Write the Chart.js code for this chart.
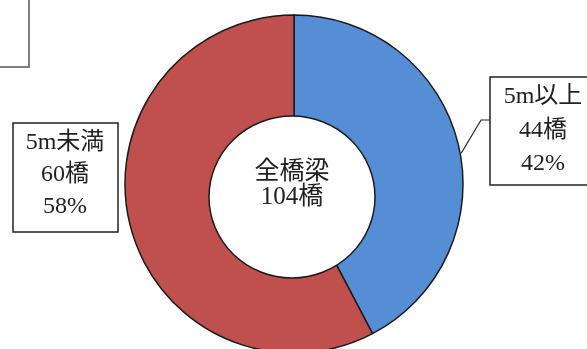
<!DOCTYPE html>
<html>
<head>
<meta charset="utf-8">
<script src="https://cdn.jsdelivr.net/npm/chart.js@4/dist/chart.umd.min.js"></script>
<style>
  html, body { margin: 0; padding: 0; background: #fff; overflow: hidden; }
  #wrap { width: 587px; height: 349px; position: relative; }
</style>
</head>
<body>
<div id="wrap"><canvas id="bridges"></canvas></div>
<script>
'use strict'

// 橋長別の橋梁数
const categories = ['5m以上', '5m未満']
const counts = [44, 60]
const colors = ['#558ED5', '#C0504D']
const centerTitle = '全橋梁'
const unit = '橋'

const FONT = '"Liberation Serif", "Noto Sans CJK JP", serif'


function percentOf (value, total) {
  return Math.round(value / total * 100) + '%'
}


function drawBox (ctx, x, y, w, h, color, width) {
  ctx.save()
  ctx.fillStyle = '#fff'
  ctx.fillRect(x, y, w, h)
  ctx.strokeStyle = color
  ctx.lineWidth = width
  ctx.strokeRect(x, y, w, h)
  ctx.restore()
}


function drawLines (ctx, lines, cx, ys, size) {
  ctx.save()
  ctx.fillStyle = '#222'
  ctx.font = size + 'px ' + FONT
  ctx.textAlign = 'center'
  ctx.textBaseline = 'middle'
  lines.forEach((text, i) => {
    ctx.fillText(text, cx, ys[i])
  })
  ctx.restore()
}


// white disc for the total, sitting a bit low in the ring
const holePlugin = {
  id: 'hole',
  afterDatasetsDraw (chart) {
    const ctx = chart.ctx
    const p = chart.getDatasetMeta(0).data[0].getProps(['x', 'y'], true)
    ctx.save()
    ctx.beginPath()
    ctx.ellipse(p.x - 2, p.y + 13, 83, 81, 0, 0, Math.PI * 2)
    ctx.fillStyle = '#fff'
    ctx.fill()
    ctx.strokeStyle = '#1b1b1b'
    ctx.lineWidth = 1.5
    ctx.stroke()
    ctx.restore()

    const total = counts.reduce((a, b) => a + b, 0)
    drawLines(ctx, [centerTitle, total + unit], p.x - 2, [p.y - 12, p.y + 13], 25)
  }
}


// labels in boxes and the leader line
const calloutPlugin = {
  id: 'callouts',
  afterDraw (chart) {
    const ctx = chart.ctx
    const total = counts.reduce((a, b) => a + b, 0)
    const meta = chart.getDatasetMeta(0)

    // frame of the neighbouring figure, top left corner
    drawBox(ctx, -10, -10, 39, 77, '#7f7f7f', 2)

    // leader from the 5m以上 slice to its box
    const p = meta.data[0].getProps(['x', 'y', 'startAngle', 'endAngle', 'outerRadius'], true)
    const mid = (p.startAngle + p.endAngle) / 2 + 0.06
    const ex = p.x + Math.cos(mid) * (p.outerRadius + 1)
    const ey = p.y + Math.sin(mid) * (p.outerRadius + 1)
    ctx.save()
    ctx.strokeStyle = '#222'
    ctx.lineWidth = 1.2
    ctx.beginPath()
    ctx.moveTo(ex, ey)
    ctx.lineTo(481, 120)
    ctx.lineTo(490, 120)
    ctx.stroke()
    ctx.restore()

    drawBox(ctx, 490, 77, 108, 108, '#222', 1.5)
    drawLines(ctx, [categories[0], counts[0] + unit, percentOf(counts[0], total)],
      543, [97, 131, 164], 24)

    drawBox(ctx, 13, 123, 105, 109, '#222', 1.5)
    drawLines(ctx, [categories[1], counts[1] + unit, percentOf(counts[1], total)],
      65, [143, 175, 207], 24)
  }
}


const chart = new Chart(document.getElementById('bridges'), {
  type: 'doughnut',
  data: {
    labels: categories,
    datasets: [{
      data: counts,
      backgroundColor: colors,
      borderColor: '#1b1b1b',
      borderWidth: 1.5,
      clip: false
    }]
  },
  options: {
    responsive: true,
    maintainAspectRatio: false,
    animation: false,
    radius: 169,
    cutout: 60,
    layout: {
      padding: { top: 19, left: 1, right: 0, bottom: 0 }
    },
    plugins: {
      legend: { display: false },
      tooltip: { enabled: false }
    }
  },
  plugins: [holePlugin, calloutPlugin]
})
</script>
</body>
</html>
